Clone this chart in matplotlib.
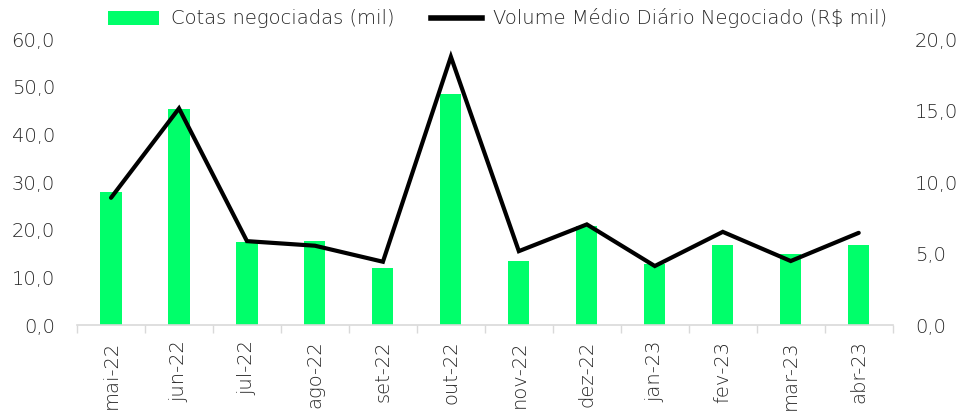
import numpy as np
import matplotlib
matplotlib.use("Agg")
import matplotlib.pyplot as plt
from matplotlib.patches import Patch
from matplotlib.lines import Line2D

months = ["mai-22", "jun-22", "jul-22", "ago-22", "set-22", "out-22",
          "nov-22", "dez-22", "jan-23", "fev-23", "mar-23", "abr-23"]
cotas = [28.0, 45.3, 17.5, 17.6, 11.9, 48.4, 13.4, 20.8, 12.8, 16.8, 15.0, 16.9]
volume = [8.9, 15.15, 5.87, 5.55, 4.43, 18.76, 5.17, 7.04, 4.13, 6.52, 4.48, 6.45]
left_ticks = [0, 10, 20, 30, 40, 50, 60]
right_ticks = [0, 5, 10, 15, 20]

green = "#00ff6a"
text_color = "#262626"
axis_gray = "#d9d9d9"

plt.rcParams["font.family"] = ["DejaVu Sans"]
plt.rcParams["font.weight"] = "light"

fig = plt.figure(figsize=(9.63, 4.11), dpi=100)
ax = fig.add_axes([0.08, 0.209, 0.847, 0.696])
ax2 = ax.twinx()

x = np.arange(len(months))
ax.bar(x, cotas, width=0.31, color=green, zorder=2)
ax2.plot(x, volume, color="black", lw=3.0, solid_capstyle="round",
         solid_joinstyle="miter", zorder=3, clip_on=False)

ax.set_xlim(-0.5, len(months) - 0.5)
ax.set_ylim(0, 60)
ax2.set_ylim(0, 20)

ax.set_yticks(left_ticks)
ax.set_yticklabels([f"{v:.1f}".replace(".", ",") for v in left_ticks])
ax2.set_yticks(right_ticks)
ax2.set_yticklabels([f"{v:.1f}".replace(".", ",") for v in right_ticks])

# category labels at centers, tick marks on the boundaries
ax.set_xticks(x)
ax.set_xticklabels(months, rotation=90)
ax.set_xticks(np.arange(len(months) + 1) - 0.5, minor=True)
ax.tick_params(axis="x", which="major", length=0, pad=11,
               labelsize=14, labelcolor=text_color)
ax.tick_params(axis="x", which="minor", length=6, width=1, color=axis_gray)
ax.tick_params(axis="y", length=0, pad=16, labelsize=14, labelcolor=text_color)
ax2.tick_params(axis="y", length=0, pad=16, labelsize=14, labelcolor=text_color)

for a in (ax, ax2):
    for side in ("top", "left", "right", "bottom"):
        a.spines[side].set_visible(False)
ax.spines["bottom"].set_visible(True)
ax.spines["bottom"].set_color(axis_gray)
ax.spines["bottom"].set_linewidth(1.2)

handles = [Patch(facecolor=green, edgecolor="none"),
           Line2D([0], [0], color="black", lw=4)]
labels = ["Cotas negociadas (mil)", "Volume Médio Diário Negociado (R$ mil)"]
fig.legend(handles, labels, loc="center", bbox_to_anchor=(0.517, 0.955),
           ncol=2, frameon=False, fontsize=14, handlelength=2.6,
           handleheight=0.75, columnspacing=1.9, handletextpad=0.6,
           labelcolor=text_color)

fig.savefig("out.png", dpi=100)
